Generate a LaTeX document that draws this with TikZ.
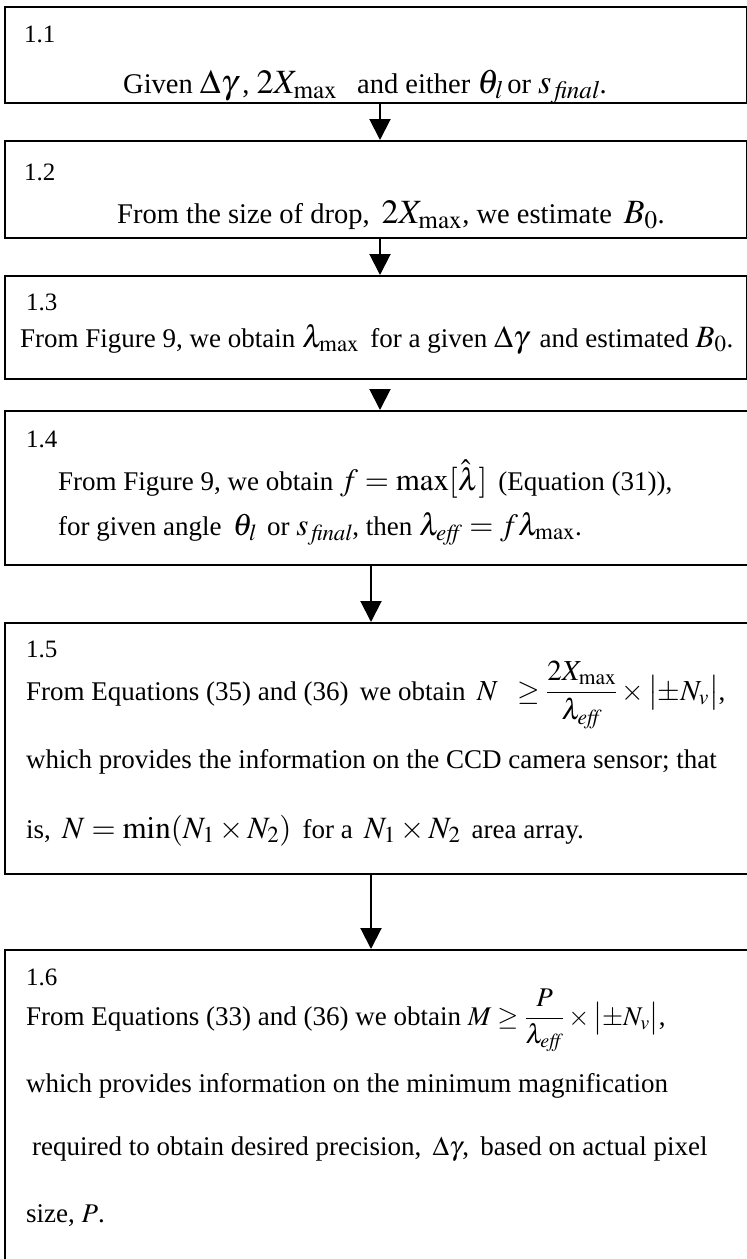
\documentclass[tikz,border=0pt]{standalone}
\usepackage{mathptmx}
\usepackage[no-math]{fontspec}
\setmainfont{Liberation Serif}
\usetikzlibrary{positioning, arrows.meta}

% larger math, as in the boxes 1.1 to 1.4
\newcommand{\mq}[1]{{\fontsize{31}{34}\selectfont\(#1\)}}
\newcommand{\mqq}[1]{{\fontsize{34}{36}\selectfont\(#1\)}}

\begin{document}
\begin{tikzpicture}[
  x=1pt, y=-1pt,
  every node/.style={font=\fontsize{27}{30}\selectfont},
  stepbox/.style={
    draw,
    line width=2pt,
    anchor=north west,
    inner sep=0pt,
    minimum width=742pt
  },
  openbox/.style={stepbox, minimum width=760pt},
  steplabel/.style={anchor=base west, inner sep=0pt, font=\fontsize{25}{30}\selectfont},
  txt/.style={anchor=base west, inner sep=0pt},
  bigtxt/.style={txt, font=\fontsize{28.5}{32}\selectfont},
  flow/.style={draw, line width=2pt, -{Triangle[length=21pt, width=21pt]}}
]

\useasboundingbox (0,0) rectangle (747,1259);
\clip (0,0) rectangle (747,1259);

\coordinate (spine) at (380,0);
\coordinate (spineb) at (371,0);

% boxes
\node[stepbox, minimum height=96pt] (b11) at (4,6) {};
\node[stepbox, minimum height=97pt] (b12) at (4,140) {};
\node[stepbox, minimum height=103pt] (b13) at (4,275) {};
\node[openbox, minimum height=154pt] (b14) at (4,410) {};
\node[openbox, minimum height=251pt] (b15) at (4,622) {};
\node[openbox, minimum height=340pt] (b16) at (4,949) {};

% texts
\node[steplabel] (l11) at (24,42) {1.1};
\node[bigtxt] (t11) at (123,93) {Given \mqq{\Delta\gamma}\,, \mqq{2X_{\mathrm{max}}}\;\, and either \mqq{\theta_{\mathit{l}}}\,or \mqq{s_{\,\mathit{final}}}.};

\node[steplabel] (l12) at (24,180) {1.2};
\node[bigtxt] (t12) at (117,223) {From the size of drop,\, \mqq{2X_{\mathrm{max}}}, we estimate\, \mqq{B_0}.};

\node[steplabel] (l13) at (26,310) {1.3};
\node[txt] (t13) at (20,347) {From Figure 9, we obtain \mq{\lambda_{\mathrm{max}}}\, for a given \mq{\Delta\gamma}\, and estimated \mq{B_0}.};

\node[steplabel] (l14) at (26,447) {1.4};
\node[txt] (t14a) at (58,490) {From Figure 9, we obtain \mq{f=\max[\hat{\lambda}]}\, (Equation (31)),};
\node[txt] (t14b) at (58,535) {for given angle\, \mq{\theta_{\mathit{l}}}\, or \mq{s_{\,\mathit{final}}}, then \mq{\lambda_{\mathit{eff}}=f\lambda_{\mathrm{max}}}.};

\node[steplabel] (l15) at (26,657) {1.5};
\node[txt] (t15a) at (26,700) {From Equations (35) and (36)\, we obtain\, {\fontsize{29}{32}\selectfont\(N\;\;\ge{\displaystyle\frac{2X_{\mathrm{max}}}{\lambda_{\mathit{eff}}}}\times\bigl|\pm N_v\bigr|\)},};
\node[txt] (t15b) at (26,768) {which provides the information on the CCD camera sensor; that};
\node[txt] (t15c) at (26,838) {is,\, \mq{N=\min(N_1\times N_2)}\, for a\, \mq{N_1\times N_2}\, area array.};

\node[steplabel] (l16) at (26,985) {1.6};
\node[txt] (t16a) at (26,1025) {From Equations (33) and (36) we obtain \(M\ge{\displaystyle\frac{P}{\lambda_{\mathit{eff}}}}\times\bigl|\pm N_v\bigr|\),};
\node[txt] (t16b) at (26,1092) {which provides information on the minimum magnification};
\node[txt] (t16c) at (32,1155) {required to obtain desired precision,\, \(\Delta\gamma\),\, based on actual pixel};
\node[txt] (t16d) at (26,1222) {size, \(P\).};

% arrows
\draw[flow] (b11.south -| spine) -- (b12.north -| spine);
\draw[flow] (b12.south -| spine) -- (b13.north -| spine);
\draw[flow, shorten <=11pt] (b13.south -| spine) -- (b14.north -| spine);
\draw[flow] (b14.south -| spineb) -- (b15.north -| spineb);
\draw[flow] (b15.south -| spineb) -- (b16.north -| spineb);

\end{tikzpicture}
\end{document}
